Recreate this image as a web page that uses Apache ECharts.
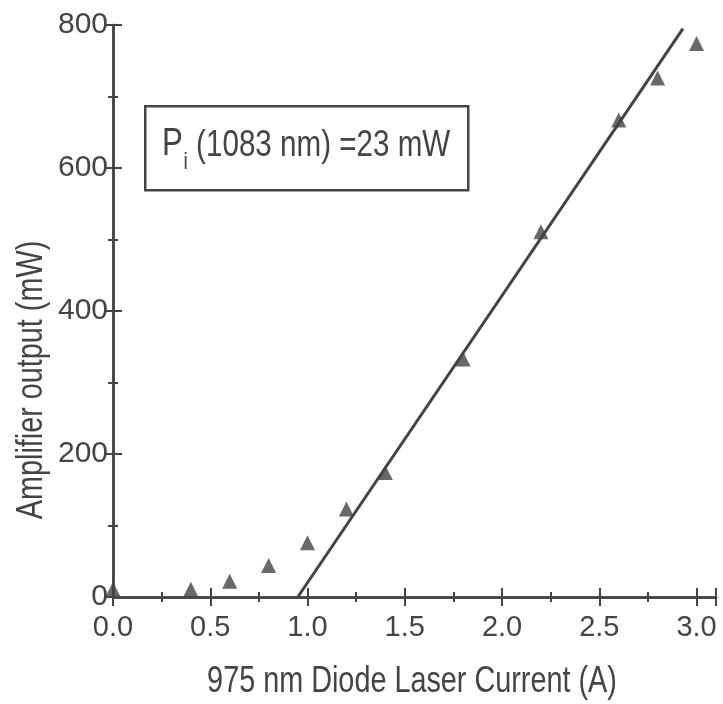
<!DOCTYPE html>
<html>
<head>
<meta charset="utf-8">
<script src="https://cdn.jsdelivr.net/npm/echarts@6/dist/echarts.min.js"></script>
<style>
html,body{margin:0;padding:0;background:#fff;}
#c{width:723px;height:704px;}
</style>
</head>
<body>
<div id="c"></div>
<script>
// Data
var currents = [0.0, 0.4, 0.6, 0.8, 1.0, 1.2, 1.4, 1.8, 2.2, 2.6, 2.8, 3.0];
var outputs  = [11, 11, 22, 44, 76, 123, 174, 333, 511, 667, 726, 774];
var fitX = [0.95, 2.93];
var fitY = [0, 795];
var xTitle = '975 nm Diode Laser Current (A)';
var yTitle = 'Amplifier output (mW)';
var noteMain = 'P';
var noteSub = 'i';
var noteRest = ' (1083 nm) =23 mW';

var FONT = "'Liberation Sans', Arial, Helvetica, sans-serif";
var INK = '#444';
var NARROW = 0.8;

var chart = echarts.init(document.getElementById('c'));
var scatterData = currents.map(function (x, i) { return [x, outputs[i]]; });
var lineData = fitX.map(function (x, i) { return [x, fitY[i]]; });

var axisCommon = {
  axisLine: { show: true, lineStyle: { color: INK, width: 2.5 } },
  axisTick: { show: true, inside: true, length: 9, lineStyle: { color: INK, width: 2 } },
  minorTick: { show: true, splitNumber: 2, length: 5, lineStyle: { color: INK, width: 2 } },
  splitLine: { show: false }
};

chart.setOption({
  animation: false,
  backgroundColor: '#fff',
  grid: { left: 113, top: 25, right: 7, bottom: 107, containLabel: false },
  xAxis: [
    Object.assign({
      type: 'value', position: 'bottom', min: 0, max: 3.1, interval: 0.5,
      axisLabel: {
        showMaxLabel: false, margin: 16, fontFamily: FONT, fontSize: 29, color: INK,
        formatter: function (v) { return v.toFixed(1); }
      }
    }, axisCommon),
    Object.assign({
      type: 'value', position: 'top', min: 0, max: 3.1, interval: 0.5,
      axisLabel: { show: false }
    }, axisCommon)
  ],
  yAxis: [
    Object.assign({
      type: 'value', position: 'left', min: 0, max: 800, interval: 200,
      axisLabel: { margin: 5, fontFamily: FONT, fontSize: 30, color: INK }
    }, axisCommon),
    Object.assign({
      type: 'value', position: 'right', min: 0, max: 800, interval: 200,
      axisLabel: { show: false }
    }, axisCommon)
  ],
  graphic: [
    {
      type: 'text', x: 412, y: 682, z: 11, scaleX: NARROW,
      style: {
        text: xTitle, fontFamily: FONT, fontSize: 36, fill: INK,
        textAlign: 'center', textVerticalAlign: 'middle'
      }
    },
    {
      type: 'text', x: 32, y: 380, z: 11, rotation: Math.PI / 2, scaleX: NARROW,
      style: {
        text: yTitle, fontFamily: FONT, fontSize: 36, fill: INK,
        textAlign: 'center', textVerticalAlign: 'middle'
      }
    },
    {
      type: 'rect', left: 144, top: 105, z: 10,
      shape: { width: 323, height: 84 },
      style: { fill: '#fff', stroke: INK, lineWidth: 2.5 }
    },
    {
      type: 'text', x: 162, y: 164, z: 11, scaleX: NARROW,
      style: {
        text: '{p|' + noteMain + '}{s|' + noteSub + '}{r|' + noteRest + '}',
        textVerticalAlign: 'bottom',
        rich: {
          p: { fontFamily: FONT, fontSize: 39, fill: INK, verticalAlign: 'bottom' },
          s: { fontFamily: FONT, fontSize: 24, fill: INK, verticalAlign: 'bottom', padding: [0, 0, -10, 1] },
          r: { fontFamily: FONT, fontSize: 37, fill: INK, verticalAlign: 'bottom' }
        }
      }
    }
  ],
  series: [
    {
      type: 'line', data: lineData, symbol: 'none', xAxisIndex: 0, yAxisIndex: 0,
      lineStyle: { color: INK, width: 3 }, z: 3
    },
    {
      type: 'scatter', data: scatterData, symbol: 'triangle', symbolSize: 15,
      xAxisIndex: 0, yAxisIndex: 0,
      itemStyle: { color: INK }, z: 4
    }
  ]
});
</script>
</body>
</html>
